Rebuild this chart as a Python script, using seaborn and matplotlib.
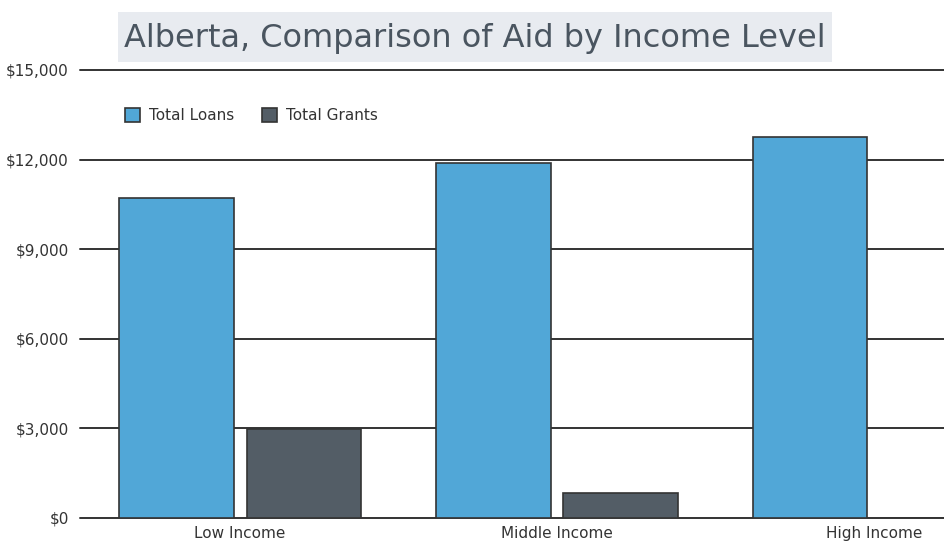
import matplotlib
matplotlib.use("Agg")
import matplotlib.pyplot as plt
from matplotlib.patches import Rectangle
import pandas as pd
import seaborn as sns

# values
categories = ["Low Income", "Middle Income", "High Income"]
series = ["Total Loans", "Total Grants"]
loans = [10700, 11900, 12750]
grants = [2980, 830, 0]
yticks = [0, 3000, 6000, 9000, 12000, 15000]
ytick_labels = ["$0", "$3,000", "$6,000", "$9,000", "$12,000", "$15,000"]

df = pd.DataFrame({
    "income": categories * 2,
    "kind": [series[0]] * 3 + [series[1]] * 3,
    "amount": loans + grants,
})

sns.set_style("white")
plt.rcParams["font.family"] = ["DejaVu Sans"]

W, H = 944, 543
fig = plt.figure(figsize=(W / 100, H / 100), dpi=100)
ax = fig.add_axes([80 / W, 25 / H, 1 - 80 / W, (518 - 70) / H])

palette = {"Total Loans": "#51a7d7", "Total Grants": "#535d66"}
sns.barplot(data=df, x="income", y="amount", hue="kind", palette=palette,
            width=0.802, gap=0.102, edgecolor="#333333", linewidth=1.2,
            saturation=1, ax=ax, zorder=3)

ax.set_ylim(0, 15000)
ax.set_xlim(-0.505, 2.221)
ax.set_yticks(yticks)
ax.set_yticklabels(ytick_labels)
ax.yaxis.grid(True, color="#333333", linewidth=1.4)
ax.set_axisbelow(True)
for gl in ax.get_ygridlines():
    gl.set_clip_on(False)
for s in ax.spines.values():
    s.set_visible(False)
ax.tick_params(axis="both", length=0, labelsize=11, colors="#333333")
ax.tick_params(axis="y", pad=8)
ax.tick_params(axis="x", pad=6)
ax.set_xlabel("")
ax.set_ylabel("")

leg = ax.legend(loc="upper left", bbox_to_anchor=(0.036, 0.945), ncol=2,
                frameon=False, fontsize=11, handlelength=1.0, handleheight=1.0,
                columnspacing=1.8, handletextpad=0.6)
for t in leg.get_texts():
    t.set_color("#333333")

# title on a light grey band
fig.patches.append(Rectangle((118 / W, 1 - 62 / H), (832 - 118) / W, 50 / H,
                             transform=fig.transFigure, facecolor="#e8ebf0",
                             edgecolor="none", zorder=0))
fig.text(475 / W, 1 - 38 / H, "Alberta, Comparison of Aid by Income Level",
         ha="center", va="center", fontsize=23, color="#4a5560")

fig.savefig("out.png", dpi=100)
